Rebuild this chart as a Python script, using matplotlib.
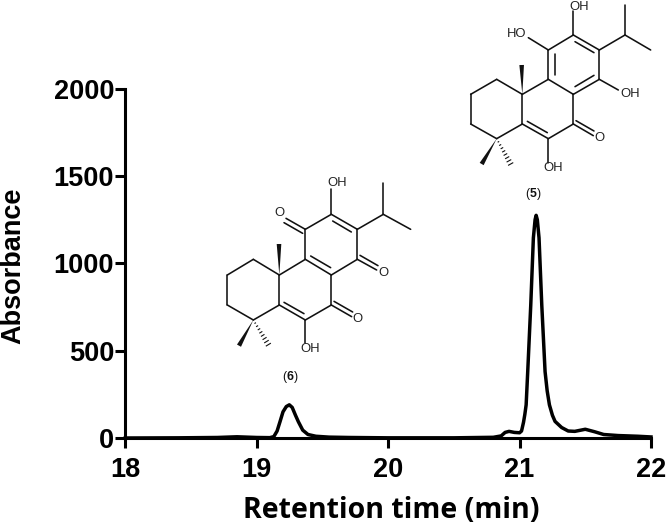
import matplotlib
matplotlib.use("Agg")
import matplotlib.pyplot as plt
from matplotlib.patches import Polygon

# chromatogram
time = [18.0, 18.4, 18.7, 18.85, 19.0, 19.1, 19.13, 19.155, 19.177, 19.2, 19.225, 19.248, 19.27, 19.295,
        19.317, 19.35, 19.39, 19.45, 19.55, 19.7, 20.0, 20.5, 20.8, 20.86, 20.89, 20.92, 20.96, 21.0,
        21.015, 21.03, 21.04, 21.05, 21.062, 21.085, 21.105, 21.118, 21.126, 21.135, 21.148, 21.169,
        21.194, 21.21, 21.227, 21.25, 21.27, 21.32, 21.37, 21.42, 21.5, 21.57, 21.64, 21.75, 21.9, 22.0]
absorbance = [0, 1, 3, 7, 3, 2, 8, 40, 93, 150, 180, 190, 175, 130,
              93, 45, 20, 10, 5, 3, 1, 1, 4, 12, 32, 38, 32, 30,
              40, 90, 135, 190, 380, 760, 1146, 1250, 1275, 1250, 1146, 760,
              380, 270, 190, 130, 95, 60, 40, 38, 50, 36, 20, 14, 10, 6]

x_ticks = [18, 19, 20, 21, 22]
y_ticks = [0, 500, 1000, 1500, 2000]

W, H = 666, 526
fig = plt.figure(figsize=(W / 100, H / 100), dpi=100)
ax = fig.add_axes([125.3 / W, 1 - 438 / H, (651 - 125.3) / W, (438 - 88.7) / H])
ax.plot(time, absorbance, color="black", lw=2.5, solid_joinstyle="round", clip_on=False, zorder=3)
ax.set_xlim(18, 22)
ax.set_ylim(0, 2000)
ax.set_xticks(x_ticks)
ax.set_yticks(y_ticks)
for s in ["top", "right"]:
    ax.spines[s].set_visible(False)
for s in ["left", "bottom"]:
    ax.spines[s].set_linewidth(2.2)
ax.tick_params(axis="x", width=2.2, length=7.5, pad=6)
ax.tick_params(axis="y", width=2.2, length=7.5, pad=0.5)
for lab in ax.get_xticklabels() + ax.get_yticklabels():
    lab.set_fontfamily("Liberation Sans")
    lab.set_fontweight("bold")
    lab.set_fontsize(19.5)
fig.text(391.5 / W, 1 - 510.5 / H, "Retention time (min)", family="Open Sans", weight="bold", fontsize=20.5,
         ha="center", va="center")
fig.text(13 / W, 1 - 266 / H, "Absorbance", family="Liberation Sans", weight="bold", fontsize=19.5,
         rotation=90, ha="center", va="center")

# overlay in pixel coordinates for the two structure drawings
ov = fig.add_axes([0, 0, 1, 1])
ov.set_xlim(0, W)
ov.set_ylim(H, 0)
ov.axis("off")
ink = "#111111"


def draw_structure(ox, oy, bonds, wedges, hashes, labels, name):
    def px(p):
        return ox + p[0] / 3, oy + p[1] / 3
    for a, b in bonds:
        (x0, y0), (x1, y1) = px(a), px(b)
        ov.plot([x0, x1], [y0, y1], color=ink, lw=1.15, solid_capstyle="round")
    for a, b in wedges:
        (x0, y0), (x1, y1) = px(a), px(b)
        dx, dy = x1 - x0, y1 - y0
        n = (dx ** 2 + dy ** 2) ** 0.5
        nx, ny = -dy / n * 2.3, dx / n * 2.3
        ov.add_patch(Polygon([(x0, y0), (x1 + nx, y1 + ny), (x1 - nx, y1 - ny)], color=ink, lw=0))
    for a, b in hashes:
        (x0, y0), (x1, y1) = px(a), px(b)
        dx, dy = x1 - x0, y1 - y0
        n = (dx ** 2 + dy ** 2) ** 0.5
        nx, ny = -dy / n, dx / n
        for k in range(1, 9):
            t = k / 8
            xm, ym = x0 + dx * t, y0 + dy * t
            w = 2.4 * t
            ov.plot([xm - nx * w, xm + nx * w], [ym - ny * w, ym + ny * w], color=ink, lw=0.8)
    for p, s in labels:
        x, y = px(p)
        ov.text(x, y, s, ha="center", va="center", family="Liberation Sans", fontsize=9.4, color="#222222")
    x, y = px(name[0])
    ov.text(x, y, "(", ha="right", va="center", family="Liberation Sans", fontsize=8.8, color=ink)
    ov.text(x, y, name[1], ha="left", va="center", family="Liberation Sans", fontsize=8.8,
            weight="bold", color=ink)
    ov.text(x + 7.4, y, ")", ha="left", va="center", family="Liberation Sans", fontsize=8.8, color=ink)


# compound 5
draw_structure(
    440, 0,
    [((400, 105), (478, 150)), ((478, 150), (478, 238)), ((478, 238), (400, 283)), ((400, 283), (325, 238)),
     ((325, 238), (325, 150)), ((325, 150), (400, 105)),
     ((405, 125), (462, 158)), ((345, 162), (345, 225)), ((462, 226), (405, 260)),
     ((400, 105), (400, 32)), ((325, 150), (265, 113)), ((478, 150), (555, 105)), ((555, 105), (555, 15)),
     ((555, 105), (632, 150)), ((478, 238), (535, 270)),
     ((400, 283), (400, 372)), ((400, 372), (325, 416)), ((325, 416), (247, 372)), ((247, 372), (247, 283)),
     ((247, 283), (325, 238)), ((262, 364), (322, 398)),
     ((400, 372), (460, 407)), ((408, 362), (462, 393)), ((325, 416), (325, 490)),
     ((247, 283), (170, 238)), ((170, 238), (92, 283)), ((92, 283), (92, 372)), ((92, 372), (170, 416)),
     ((170, 416), (247, 372))],
    [((247, 283), (245, 195)), ((170, 416), (125, 492))],
    [((170, 416), (212, 492))],
    [((417, 20), "OH"), ((230, 102), "HO"), ((570, 282), "OH"), ((478, 413), "O"), ((338, 503), "OH")],
    ((268, 583), "5"),
)

# compound 6
draw_structure(
    200, 170,
    [((394, 133), (472, 178)), ((472, 178), (472, 268)), ((472, 268), (394, 315)), ((394, 315), (316, 268)),
     ((316, 268), (316, 178)), ((316, 178), (394, 133)),
     ((398, 153), (454, 186)), ((332, 258), (392, 293)),
     ((394, 133), (394, 58)), ((472, 178), (550, 133)), ((550, 133), (550, 40)), ((550, 133), (632, 178)),
     ((316, 178), (258, 145)), ((308, 190), (252, 158)), ((472, 268), (530, 300)), ((480, 256), (534, 287)),
     ((394, 315), (394, 405)), ((394, 405), (316, 450)), ((316, 450), (238, 405)), ((238, 405), (238, 315)),
     ((238, 315), (316, 268)), ((252, 397), (312, 431)),
     ((394, 405), (455, 440)), ((402, 394), (458, 426)), ((316, 450), (316, 520)),
     ((238, 315), (160, 268)), ((160, 268), (82, 315)), ((82, 315), (82, 405)), ((82, 405), (160, 450)),
     ((160, 450), (238, 405))],
    [((238, 315), (237, 222)), ((160, 450), (117, 527))],
    [((160, 450), (205, 524))],
    [((410, 38), "OH"), ((237, 130), "O"), ((550, 310), "O"), ((472, 447), "O"), ((330, 538), "OH")],
    ((260, 620), "6"),
)

fig.savefig("out.png", dpi=100)
